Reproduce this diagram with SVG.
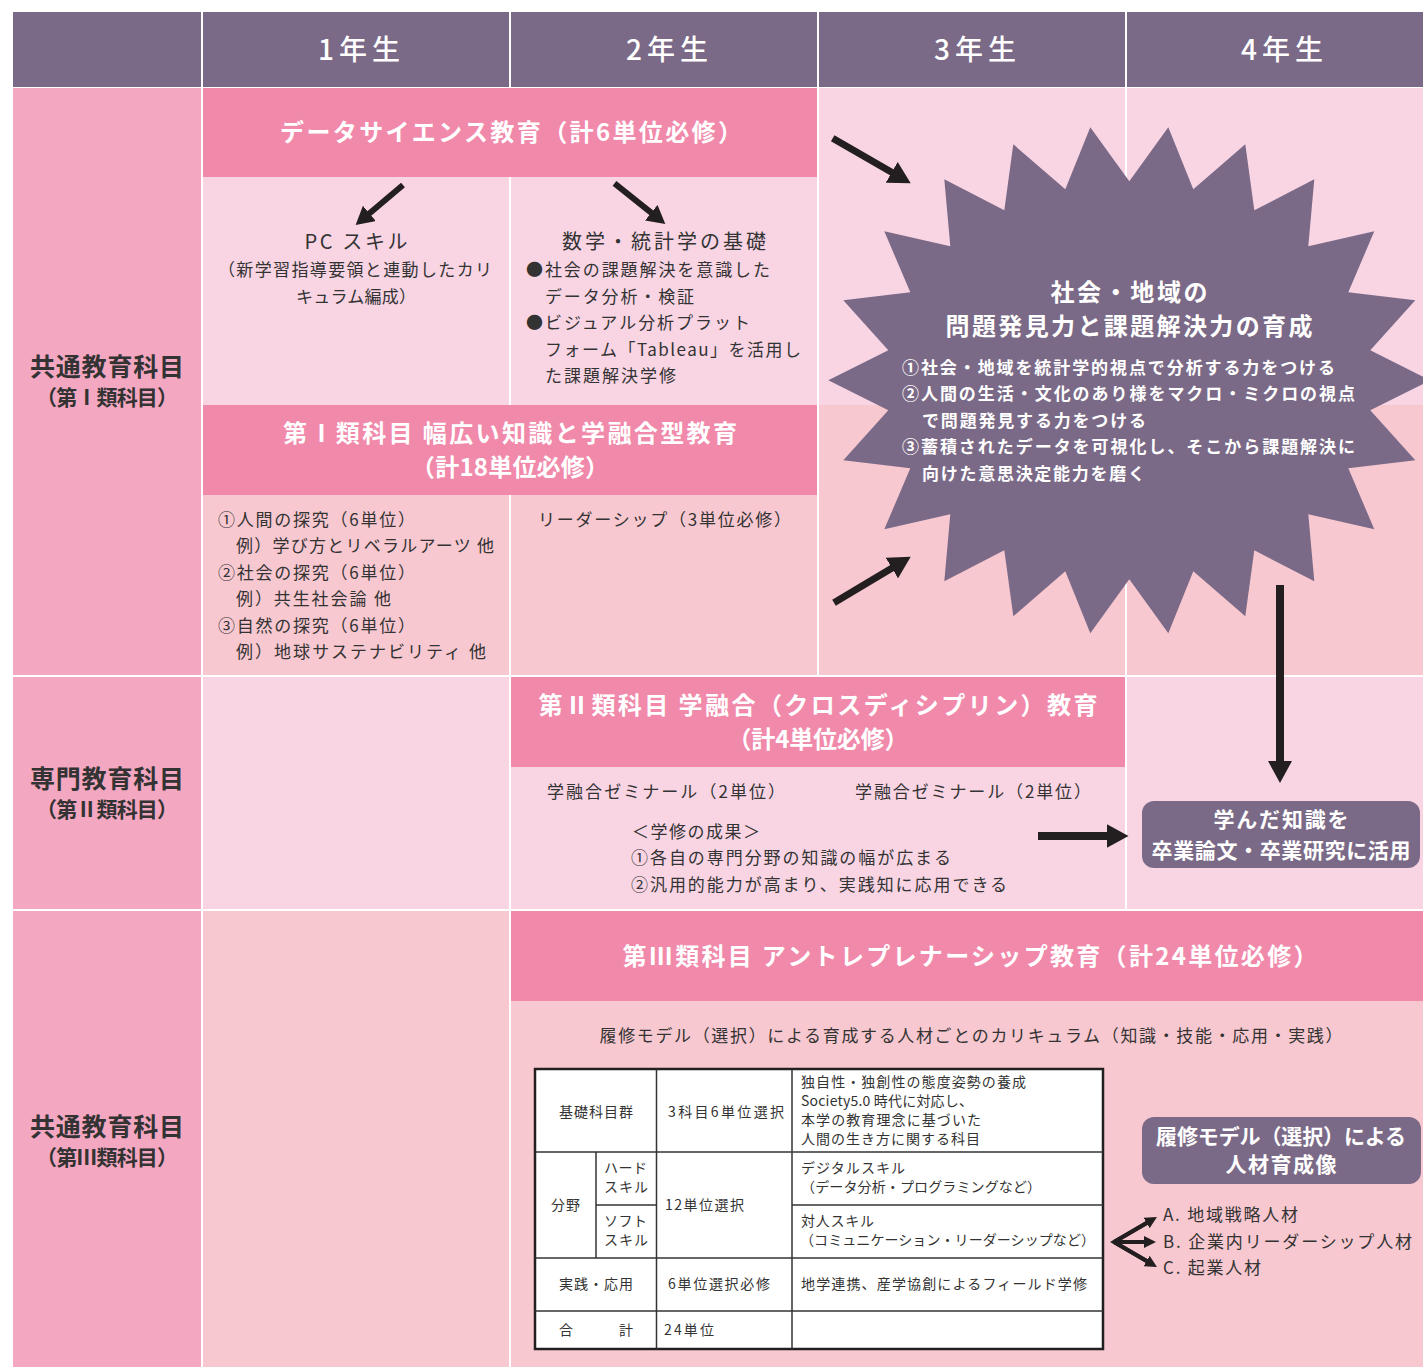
<svg xmlns="http://www.w3.org/2000/svg" width="1423" height="1367" viewBox="0 0 1423 1367">
<defs>
<style>
text{font-family:"Noto Sans CJK JP","Noto Sans",sans-serif;dominant-baseline:central}
.hdr{fill:#7b6a87}
.lbl{fill:#f4a7c1}
.bar{fill:#f189ab}
.lt{fill:#f9d5e4}
.sal{fill:#f8c8d0}
.sep{stroke:#ffffff;stroke-width:2}
.th{fill:#fff;font-size:28px;font-weight:500;text-anchor:middle}
.tb{fill:#fff;font-size:24px;font-weight:700;text-anchor:middle}
.tl{fill:#333;font-size:25px;font-weight:700;text-anchor:middle}
.tls{fill:#333;font-size:21px;font-weight:700;text-anchor:middle}
.t20{fill:#333;font-size:20px;text-anchor:middle}
.t17{fill:#333;font-size:17px}
.t14{fill:#333;font-size:14px}
.s1{fill:#fff;font-size:24px;font-weight:700;text-anchor:middle}
.s2{fill:#fff;font-size:17px;font-weight:700}
.bx{fill:#fff;font-size:21px;font-weight:700;text-anchor:middle}
.box{fill:#7b6a87}
.arr{stroke:#231f20;fill:none}
.tbl{stroke:#333;stroke-width:1.5;fill:none}
</style>
<marker id="mMed" viewBox="0 0 18 20" markerWidth="18" markerHeight="20" refX="9" refY="10" orient="auto" markerUnits="userSpaceOnUse"><path d="M0,0 L18,10 L0,20 z" fill="#231f20"/></marker>
<marker id="mBig" viewBox="0 0 22 24" markerWidth="22" markerHeight="24" refX="11" refY="12" orient="auto" markerUnits="userSpaceOnUse"><path d="M0,0 L22,12 L0,24 z" fill="#231f20"/></marker>
<marker id="mSm" viewBox="0 0 12 12" markerWidth="12" markerHeight="12" refX="6" refY="6" orient="auto" markerUnits="userSpaceOnUse"><path d="M0,0 L12,6 L0,12 z" fill="#231f20"/></marker>
</defs>
<rect width="1423" height="1367" fill="#fff"/>

<g id="header">
<rect class="hdr" x="13" y="12" width="188" height="75"/>
<rect class="hdr" x="203" y="12" width="306" height="75"/>
<rect class="hdr" x="511" y="12" width="306" height="75"/>
<rect class="hdr" x="819" y="12" width="306" height="75"/>
<rect class="hdr" x="1127" y="12" width="296" height="75"/>
<text class="th" x="359" y="48" textLength="82">1年生</text>
<text class="th" x="667" y="48" textLength="82">2年生</text>
<text class="th" x="975" y="48" textLength="82">3年生</text>
<text class="th" x="1282" y="48" textLength="82">4年生</text>
</g>

<g id="background">
<rect class="lbl" x="13" y="88" width="188" height="587"/>
<rect class="lbl" x="13" y="677" width="188" height="232"/>
<rect class="lbl" x="13" y="911" width="188" height="456"/>
<rect class="lt" x="203" y="177" width="306" height="228"/>
<rect class="lt" x="511" y="177" width="306" height="228"/>
<rect class="sal" x="203" y="495" width="306" height="181"/>
<rect class="sal" x="511" y="495" width="306" height="181"/>
<rect class="lt" x="819" y="88" width="306" height="317"/>
<rect class="sal" x="819" y="405" width="306" height="271"/>
<rect class="lt" x="1127" y="88" width="296" height="317"/>
<rect class="sal" x="1127" y="405" width="296" height="271"/>
<rect class="lt" x="203" y="677" width="306" height="233"/>
<rect class="lt" x="511" y="767" width="614" height="143"/>
<rect class="lt" x="1127" y="677" width="296" height="233"/>
<rect class="sal" x="203" y="911" width="306" height="456"/>
<rect class="sal" x="511" y="1001" width="912" height="366"/>
</g>

<g id="row-labels">
<text class="tl" x="107" y="365" textLength="154">共通教育科目</text>
<text class="tls" x="107" y="396" textLength="142">（第Ⅰ類科目）</text>
<text class="tl" x="107" y="777" textLength="154">専門教育科目</text>
<text class="tls" x="107" y="808" textLength="142">（第Ⅱ類科目）</text>
<text class="tl" x="107" y="1125" textLength="154">共通教育科目</text>
<text class="tls" x="107" y="1156" textLength="142">（第Ⅲ類科目）</text>
</g>

<g id="data-science">
<rect class="bar" x="203" y="88" width="614" height="89"/>
<text class="tb" x="511" y="130" textLength="462">データサイエンス教育（計6単位必修）</text>
</g>

<g id="pc-skill">
<text class="t20" x="356" y="240" textLength="103">PC スキル</text>
<text class="t17" x="218" y="268" textLength="274">（新学習指導要領と連動したカリ</text>
<text class="t17" x="296" y="295" textLength="120">キュラム編成）</text>
</g>

<g id="math-stats">
<text class="t20" x="664" y="240" textLength="204">数学・統計学の基礎</text>
<text class="t17" x="526" y="268" textLength="244">●社会の課題解決を意識した</text>
<text class="t17" x="545" y="295" textLength="149">データ分析・検証</text>
<text class="t17" x="526" y="321" textLength="224">●ビジュアル分析プラット</text>
<text class="t17" x="545" y="348" textLength="256">フォーム「Tableau」を活用し</text>
<text class="t17" x="545" y="374" textLength="131">た課題解決学修</text>
</g>

<g id="category1">
<rect class="bar" x="203" y="405" width="614" height="90"/>
<text class="tb" x="510" y="431" textLength="454">第Ⅰ類科目 幅広い知識と学融合型教育</text>
<text class="tb" x="510" y="465" textLength="198">（計18単位必修）</text>
</g>

<g id="category1-items">
<text class="t17" x="218" y="518" textLength="197">①人間の探究（6単位）</text>
<text class="t17" x="236" y="544" textLength="258">例）学び方とリベラルアーツ 他</text>
<text class="t17" x="218" y="571" textLength="197">②社会の探究（6単位）</text>
<text class="t17" x="236" y="597" textLength="155">例）共生社会論 他</text>
<text class="t17" x="218" y="624" textLength="197">③自然の探究（6単位）</text>
<text class="t17" x="236" y="650" textLength="250">例）地球サステナビリティ 他</text>
</g>

<g id="leadership">
<text class="t17" x="538" y="518" textLength="253">リーダーシップ（3単位必修）</text>
</g>

<g id="category2">
<rect class="bar" x="511" y="677" width="614" height="90"/>
<text class="tb" x="818" y="703" textLength="559">第Ⅱ類科目 学融合（クロスディシプリン）教育</text>
<text class="tb" x="818" y="737" textLength="181">（計4単位必修）</text>
</g>

<g id="category2-items">
<text class="t17" x="547" y="790" textLength="238">学融合ゼミナール（2単位）</text>
<text class="t17" x="855" y="790" textLength="236">学融合ゼミナール（2単位）</text>
<text class="t17" x="632" y="830" textLength="128">＜学修の成果＞</text>
<text class="t17" x="631" y="856" textLength="320">①各自の専門分野の知識の幅が広まる</text>
<text class="t17" x="631" y="883" textLength="376">②汎用的能力が高まり、実践知に応用できる</text>
</g>

<g id="category3">
<rect class="bar" x="511" y="911" width="912" height="90"/>
<text class="tb" x="970" y="954" textLength="695">第Ⅲ類科目 アントレプレナーシップ教育（計24単位必修）</text>
<text class="t17" x="971" y="1034" text-anchor="middle" textLength="743">履修モデル（選択）による育成する人材ごとのカリキュラム（知識・技能・応用・実践）</text>
</g>

<g id="separators">
<line class="sep" x1="202" y1="12" x2="202" y2="1367"/>
<line class="sep" x1="510" y1="12" x2="510" y2="88"/>
<line class="sep" x1="510" y1="177" x2="510" y2="405"/>
<line class="sep" x1="510" y1="495" x2="510" y2="1367"/>
<line class="sep" x1="818" y1="12" x2="818" y2="676"/>
<line class="sep" x1="1126" y1="12" x2="1126" y2="910"/>
<line class="sep" x1="13" y1="676" x2="1423" y2="676"/>
<line class="sep" x1="13" y1="910" x2="1423" y2="910"/>
</g>

<g id="starburst">
<polygon class="box" transform="translate(1129.3,380.3)" points="0,-199 39,-253 64,-191 116,-236 125,-170 185,-201 179,-134 245,-149 219,-88 286,-80 241,-30 301,0 241,30 286,80 219,88 245,149 179,134 185,201 125,170 116,236 64,191 39,253 0,199 -39,253 -64,191 -116,236 -125,170 -185,201 -179,134 -245,149 -219,88 -286,80 -241,30 -301,0 -241,-30 -286,-80 -219,-88 -245,-149 -179,-134 -185,-201 -125,-170 -116,-236 -64,-191 -39,-253"/>
<text class="s1" x="1129" y="290" textLength="157">社会・地域の</text>
<text class="s1" x="1129" y="324" textLength="367">問題発見力と課題解決力の育成</text>
<text class="s2" x="902" y="366" textLength="433">①社会・地域を統計学的視点で分析する力をつける</text>
<text class="s2" x="902" y="392" textLength="453">②人間の生活・文化のあり様をマクロ・ミクロの視点</text>
<text class="s2" x="922" y="419" textLength="224">で問題発見する力をつける</text>
<text class="s2" x="902" y="445" textLength="453">③蓄積されたデータを可視化し、そこから課題解決に</text>
<text class="s2" x="922" y="472" textLength="223">向けた意思決定能力を磨く</text>
</g>

<g id="thesis">
<rect class="box" x="1142" y="801" width="278" height="67" rx="12"/>
<text class="bx" x="1281" y="818" textLength="135">学んだ知識を</text>
<text class="bx" x="1281" y="849" textLength="259">卒業論文・卒業研究に活用</text>
</g>

<g id="curriculum-table">
<rect x="535" y="1069" width="568" height="280" fill="#fff" stroke="#231f20" stroke-width="2.5"/>
<line class="tbl" x1="656.5" y1="1069" x2="656.5" y2="1349"/>
<line class="tbl" x1="792" y1="1069" x2="792" y2="1349"/>
<line class="tbl" x1="596" y1="1152" x2="596" y2="1258"/>
<line class="tbl" x1="535" y1="1152" x2="1103" y2="1152"/>
<line class="tbl" x1="596" y1="1205" x2="656.5" y2="1205"/>
<line class="tbl" x1="792" y1="1205" x2="1103" y2="1205"/>
<line class="tbl" x1="535" y1="1258" x2="1103" y2="1258"/>
<line class="tbl" x1="535" y1="1311" x2="1103" y2="1311"/>
<text class="t14" x="559" y="1111" textLength="74">基礎科目群</text>
<text class="t14" x="668" y="1111" textLength="116">3科目6単位選択</text>
<text class="t14" x="801" y="1081" textLength="225">独自性・独創性の態度姿勢の養成</text>
<text class="t14" x="801" y="1100" textLength="172">Society5.0 時代に対応し、</text>
<text class="t14" x="801" y="1119" textLength="180">本学の教育理念に基づいた</text>
<text class="t14" x="801" y="1138" textLength="179">人間の生き方に関する科目</text>
<text class="t14" x="551" y="1204" textLength="29">分野</text>
<text class="t14" x="604" y="1167" textLength="43">ハード</text>
<text class="t14" x="604" y="1186" textLength="44">スキル</text>
<text class="t14" x="604" y="1220" textLength="43">ソフト</text>
<text class="t14" x="604" y="1239" textLength="44">スキル</text>
<text class="t14" x="665" y="1204" textLength="79">12単位選択</text>
<text class="t14" x="801" y="1167" textLength="104">デジタルスキル</text>
<text class="t14" x="801" y="1186" textLength="240">（データ分析・プログラミングなど）</text>
<text class="t14" x="801" y="1220" textLength="73">対人スキル</text>
<text class="t14" x="800" y="1239" textLength="295">（コミュニケーション・リーダーシップなど）</text>
<text class="t14" x="559" y="1283" textLength="74">実践・応用</text>
<text class="t14" x="668" y="1283" textLength="102">6単位選択必修</text>
<text class="t14" x="801" y="1283" textLength="286">地学連携、産学協創によるフィールド学修</text>
<text class="t14" x="559" y="1329">合</text>
<text class="t14" x="619" y="1329">計</text>
<text class="t14" x="664" y="1329" textLength="50">24単位</text>
</g>

<g id="talent-model">
<rect class="box" x="1142" y="1117" width="279" height="67" rx="12"/>
<text class="bx" x="1281" y="1135" font-size="22" textLength="250">履修モデル（選択）による</text>
<text class="bx" x="1281" y="1163" font-size="22" textLength="111">人材育成像</text>
</g>

<g id="talent-types">
<text class="t17" x="1163" y="1213" textLength="135">A. 地域戦略人材</text>
<text class="t17" x="1163" y="1240" textLength="249">B. 企業内リーダーシップ人材</text>
<text class="t17" x="1163" y="1266" textLength="98">C. 起業人材</text>
</g>

<g id="connectors">
<line class="arr" stroke-width="6" x1="403" y1="185" x2="362.5" y2="219.2" marker-end="url(#mMed)"/>
<line class="arr" stroke-width="6" x1="614.5" y1="183.3" x2="658.3" y2="218.4" marker-end="url(#mMed)"/>
<line class="arr" stroke-width="7" x1="832.7" y1="138.3" x2="901.2" y2="177.8" marker-end="url(#mBig)"/>
<line class="arr" stroke-width="7" x1="834" y1="602.7" x2="901.3" y2="562.4" marker-end="url(#mBig)"/>
<line class="arr" stroke-width="8" x1="1280" y1="585" x2="1280" y2="772" marker-end="url(#mBig)"/>
<line class="arr" stroke-width="8" x1="1038" y1="836" x2="1117.5" y2="836" marker-end="url(#mBig)"/>
<polyline class="arr" stroke-width="4" stroke-linejoin="miter" points="1151.8,1220 1114,1242 1151.8,1264"/>
<line class="arr" stroke-width="4" x1="1114" y1="1242" x2="1151.8" y2="1220" marker-end="url(#mSm)"/>
<line class="arr" stroke-width="4" x1="1114" y1="1242" x2="1150" y2="1242" marker-end="url(#mSm)"/>
<line class="arr" stroke-width="4" x1="1114" y1="1242" x2="1151.8" y2="1264" marker-end="url(#mSm)"/>
</g>
</svg>
